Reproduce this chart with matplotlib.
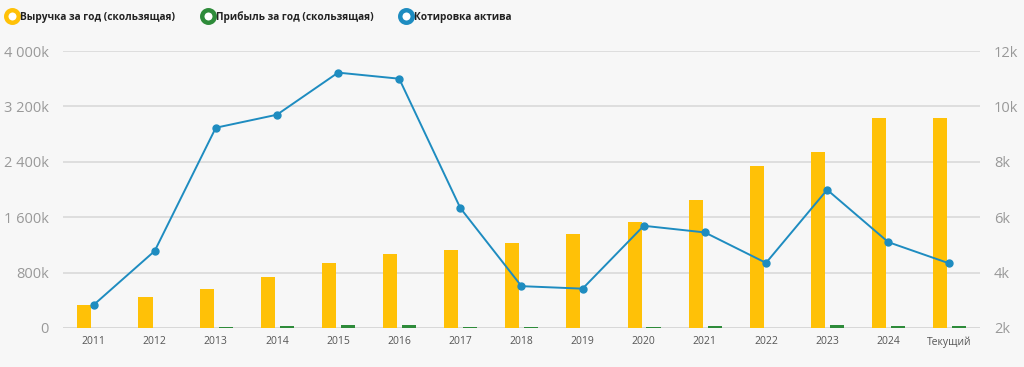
import matplotlib
matplotlib.use("Agg")
import matplotlib.pyplot as plt
from matplotlib.lines import Line2D
import numpy as np

categories = ["2011", "2012", "2013", "2014", "2015", "2016", "2017", "2018",
              "2019", "2020", "2021", "2022", "2023", "2024", "Текущий"]
# выручка, тыс.
revenue = [332, 444, 564, 742, 940, 1066, 1133, 1225, 1360, 1534, 1848, 2340, 2537, 3035, 3035]
# прибыль, тыс.
profit = [2, 6, 20, 30, 48, 45, 15, 15, 2, 15, 30, 6, 45, 30, 30]
# котировка, тыс.
price = [2.83, 4.78, 9.23, 9.70, 11.22, 11.0, 6.33, 3.51, 3.42, 5.69, 5.45, 4.35, 6.99, 5.10, 4.33]

left_ticks = [0, 800, 1600, 2400, 3200, 4000]
left_labels = ["0", "800k", "1 600k", "2 400k", "3 200k", "4 000k"]
right_ticks = [2, 4, 6, 8, 10, 12]
right_labels = ["2k", "4k", "6k", "8k", "10k", "12k"]

YELLOW = "#FFC107"
GREEN = "#2E8B3A"
BLUE = "#1E8CC0"
BG = "#F7F7F7"

plt.rcParams['font.family'] = ['Open Sans', 'DejaVu Sans']

fig = plt.figure(figsize=(10.24, 3.67), dpi=100, facecolor=BG)
ax = fig.add_axes([0.0615, 0.1063, 0.8955, 0.7547], facecolor=BG)
x = np.arange(len(categories))
w = 0.23

ax.bar(x - 0.15, revenue, width=w, color=YELLOW, zorder=2)
ax.bar(x + 0.16, profit, width=w, color=GREEN, zorder=2)
ax.set_ylim(0, 4000)
ax.set_xlim(-0.5, len(categories) - 0.5)
ax.set_yticks(left_ticks)
ax.set_yticklabels(left_labels, fontsize=10.5, color="#999999")
ax.set_xticks(x)
ax.set_xticklabels(categories, fontsize=7.5, color="#555555")
ax.tick_params(axis="both", length=0)
ax.tick_params(axis="y", pad=10)
ax.tick_params(axis="x", pad=6)
ax.grid(axis="y", color="#DADADA", linewidth=1.2, zorder=0)
for s in ax.spines.values():
    s.set_visible(False)
ax.axhline(0, color="#C8C8C8", linewidth=1.2, zorder=1)

ax2 = ax.twinx()
ax2.plot(x, price, color=BLUE, linewidth=1.4, marker="o", markersize=5, zorder=3)
ax2.set_ylim(2, 12)
ax2.set_yticks(right_ticks)
ax2.set_yticklabels(right_labels, fontsize=10.5, color="#999999")
ax2.tick_params(axis="y", length=0, pad=10)
for s in ax2.spines.values():
    s.set_visible(False)

handles = [Line2D([], [], linestyle="none", marker="o", markersize=9,
                  markerfacecolor="white", markeredgecolor=c, markeredgewidth=3.2)
           for c in (YELLOW, GREEN, BLUE)]
names = ["Выручка за год (скользящая)", "Прибыль за год (скользящая)", "Котировка актива"]
leg = fig.legend(handles, names, loc="upper left", bbox_to_anchor=(-0.004, 0.995), ncol=3,
                 frameon=False, handletextpad=0.1, columnspacing=2.5,
                 handlelength=1.4, prop={"size": 7.3, "weight": "bold"})
for t in leg.get_texts():
    t.set_color("#222222")

fig.savefig("out.png", dpi=100, facecolor=BG)
